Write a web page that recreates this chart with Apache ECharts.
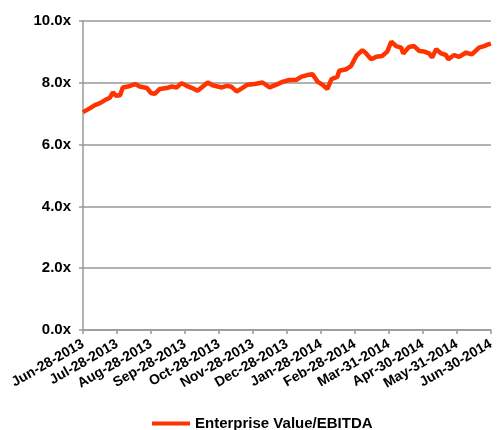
<!DOCTYPE html>
<html>
<head>
<meta charset="utf-8">
<script src="https://cdn.jsdelivr.net/npm/echarts@6/dist/echarts.min.js"></script>
<style>html,body{margin:0;padding:0;background:#fff}#c{width:497px;height:430px}</style>
</head>
<body>
<div id="c"></div>
<script>
var tickLabels = ["Jun-28-2013","Jul-28-2013","Aug-28-2013","Sep-28-2013","Oct-28-2013","Nov-28-2013","Dec-28-2013","Jan-28-2014","Feb-28-2014","Mar-31-2014","Apr-30-2014","May-31-2014","Jun-30-2014"];
var seriesName = "Enterprise Value/EBITDA";
// month offsets from Jun-28-2013 (x) and EV/EBITDA multiples (y)
var monthOffsets = [0,0.21,0.35,0.50,0.65,0.79,0.88,0.97,1.09,1.17,1.32,1.53,1.67,1.88,2.00,2.11,2.26,2.46,2.61,2.76,2.90,3.05,3.23,3.37,3.49,3.67,3.81,3.96,4.08,4.23,4.37,4.52,4.67,4.84,5.05,5.28,5.49,5.69,5.87,6.07,6.28,6.43,6.60,6.75,6.90,7.04,7.19,7.31,7.48,7.54,7.75,7.89,8.04,8.22,8.33,8.48,8.63,8.80,8.95,9.07,9.21,9.36,9.42,9.59,9.74,9.89,10.04,10.18,10.27,10.39,10.53,10.68,10.74,10.92,11.06,11.27,11.44,11.65,11.80,11.94,12.00];
var evEbitda = [7.05,7.18,7.28,7.34,7.44,7.52,7.69,7.58,7.60,7.85,7.88,7.96,7.88,7.83,7.67,7.64,7.80,7.83,7.88,7.85,7.99,7.90,7.82,7.74,7.85,8.01,7.92,7.88,7.85,7.90,7.87,7.72,7.82,7.94,7.96,8.01,7.85,7.94,8.03,8.09,8.10,8.20,8.25,8.28,8.04,7.94,7.80,8.12,8.19,8.39,8.44,8.55,8.87,9.06,8.95,8.76,8.84,8.87,9.01,9.33,9.19,9.14,8.95,9.16,9.19,9.03,9.01,8.95,8.82,9.09,8.95,8.90,8.76,8.90,8.84,8.98,8.92,9.14,9.19,9.25,9.27];

var data = monthOffsets.map(function(m,i){return [m, evEbitda[i]];});
var chart = echarts.init(document.getElementById('c'), null, {renderer:'canvas'});
var font = 'Liberation Sans, Arial, sans-serif';
chart.setOption({
  animation:false,
  grid:{left:83,right:5,top:21,bottom:100,containLabel:false},
  legend:{
    top:411, left:147,
    itemWidth:38, itemHeight:4, itemGap:10,
    icon:'rect',
    textStyle:{fontFamily:font,fontWeight:'bold',fontSize:15,color:'#000'},
    data:[seriesName]
  },
  xAxis:{
    type:'value', min:0, max:12, interval:1,
    axisLine:{show:true,lineStyle:{color:'#999',width:1.5}},
    axisTick:{show:true,length:4,lineStyle:{color:'#999',width:1.5}},
    splitLine:{show:false},
    axisLabel:{
      rotate:30, margin:13,
      fontFamily:font, fontWeight:'bold', fontSize:14, color:'#000',
      showMinLabel:true, showMaxLabel:true,
      formatter:function(v){return tickLabels[Math.round(v)]||'';}
    }
  },
  yAxis:{
    type:'value', min:0, max:10, interval:2,
    axisLine:{show:true,lineStyle:{color:'#999',width:1.5}},
    axisTick:{show:true,length:4,lineStyle:{color:'#999',width:1.5}},
    splitLine:{show:true,lineStyle:{color:'#999',width:1.5}},
    axisLabel:{
      margin:12, fontFamily:font, fontWeight:'bold', fontSize:15, color:'#000',
      formatter:function(v){return v.toFixed(1)+'x';}
    }
  },
  series:[{
    name:seriesName, type:'line', data:data,
    showSymbol:false, symbol:'none',
    lineStyle:{color:'#ff3300',width:4.5},
    itemStyle:{color:'#ff3300'}
  }]
});
</script>
</body>
</html>
